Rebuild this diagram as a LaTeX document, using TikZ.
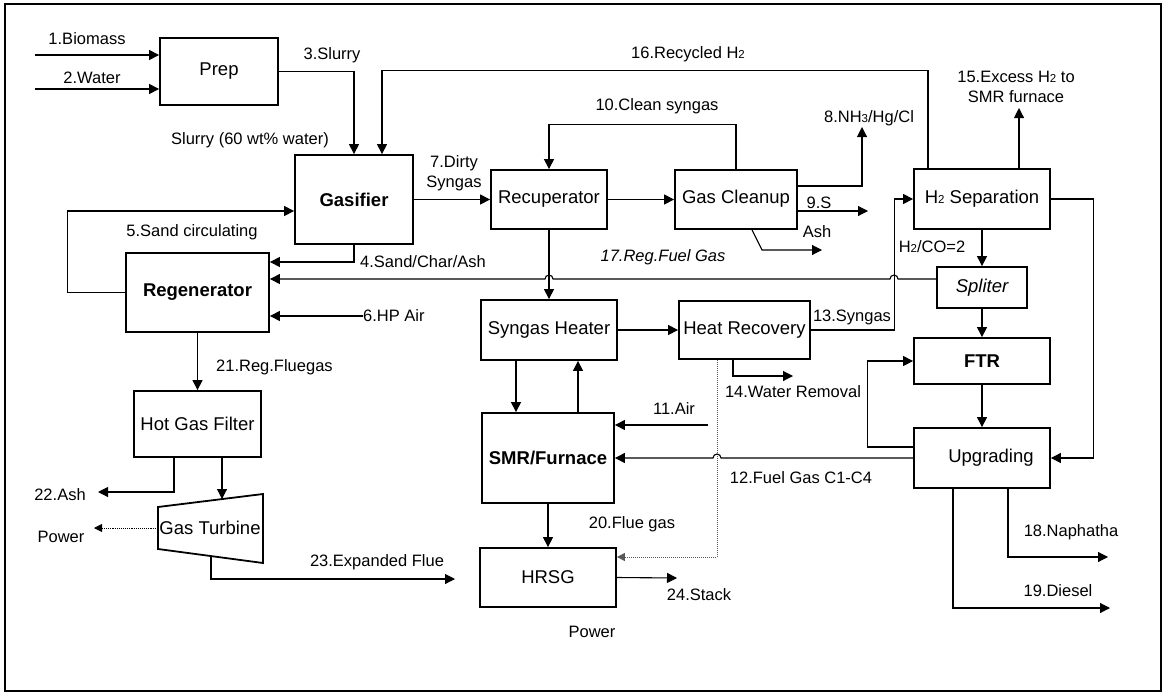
\documentclass[tikz,border=0pt]{standalone}
\usepackage{fontspec}
\setmainfont{Liberation Sans}
\usetikzlibrary{arrows.meta}
\newcommand\lblfont{\fontsize{16.5}{19}\selectfont}
\newcommand\boxfont{\fontsize{18.5}{21}\selectfont}
\newcommand\smallsub[1]{{\fontsize{11.5}{12}\selectfont #1}}
\begin{document}
\begin{tikzpicture}[x=1pt,y=-1pt,
  unit/.style={draw, line width=1.8pt, inner sep=0pt, font=\boxfont},
  arr/.style={line width=1.1pt, -{Triangle[length=10pt,width=10pt]}},
  plain/.style={line width=1.1pt},
  dotarr/.style={line width=1pt, densely dotted, gray!70!black, -{Triangle[length=8pt,width=8pt]}},
  lbl/.style={font=\lblfont, inner sep=1pt}]
\useasboundingbox (0,0) rectangle (1166,696);
\draw[line width=1.8pt] (5,4) rectangle (1161,691);

% process units
\node[unit, minimum width=118pt, minimum height=67pt] (prep) at (219,71.5) {Prep};
\node[unit, minimum width=118pt, minimum height=89pt, font=\boxfont\bfseries] (gas) at (354,199.5) {Gasifier};
\node[unit, minimum width=143pt, minimum height=79pt, font=\boxfont\bfseries] (regen) at (197.5,292.5) {Regenerator};
\node[unit, minimum width=127pt, minimum height=66pt] (hgf) at (197.5,424) {Hot Gas Filter};
\node[unit, minimum width=116pt, minimum height=59pt] (recup) at (549,199.5) {Recuperator};
\node[unit, minimum width=122pt, minimum height=59pt] (clean) at (736,199.5) {\raisebox{5pt}{Gas Cleanup}};
\node[unit, minimum width=136pt, minimum height=60pt] (h2sep) at (982,199) {H\smallsub{2} Separation};
\node[unit, minimum width=90pt, minimum height=41pt, font=\boxfont\itshape] (split) at (982,287.5) {Spliter};
\node[unit, minimum width=136pt, minimum height=46pt, font=\boxfont\bfseries] (ftr) at (982,361) {FTR};
\node[unit, minimum width=136pt, minimum height=60pt] (upg) at (982,458) {\hspace*{18pt}Upgrading};
\node[unit, minimum width=136pt, minimum height=60pt] (sh) at (549,330) {Syngas Heater};
\node[unit, minimum width=131pt, minimum height=58pt] (hr) at (744.5,330) {\raisebox{3pt}{Heat Recovery}};
\node[unit, minimum width=132pt, minimum height=90pt, font=\boxfont\bfseries] (smr) at (548,458) {SMR/Furnace};
\node[unit, minimum width=136pt, minimum height=59pt] (hrsg) at (548,577.5) {HRSG};

% gas turbine (trapezoid)
\coordinate (gt1) at (158,507);
\coordinate (gt2) at (263,494);
\coordinate (gt3) at (263,563);
\coordinate (gt4) at (158,549);
\draw[line width=1.8pt, line join=miter] (gt1) -- (gt2) -- (gt3) -- (gt4) -- cycle;
\node[font=\boxfont, inner sep=0pt] (gt) at (210,528) {Gas Turbine};
\coordinate (gtin) at (222,499);
\coordinate (gtout) at (211,556);

% free ends of streams
\coordinate (i1) at (35,55);
\coordinate (i2) at (35,89);
\coordinate (i6) at (363,316);
\coordinate (i11) at (708,425);
\coordinate (o8) at (862,127);
\coordinate (o9) at (868,211);
\coordinate (oash) at (822,250);
\coordinate (o15) at (1019,108);
\coordinate (o14) at (793,376);
\coordinate (o18) at (1108,557);
\coordinate (o19) at (1110,608);
\coordinate (o22) at (98,492);
\coordinate (opw) at (94,528);
\coordinate (o23) at (455,579);
\coordinate (o24) at (677,578);

% feed and gasification
\draw[arr] (i1) -- (i1 -| prep.west);
\draw[arr] (i2) -- (i2 -| prep.west);
\draw[arr] (prep.east) -| (gas.north);
\draw[arr] ([xshift=-54pt]h2sep.north) -- ++(0,-98) -| ([xshift=28pt]gas.north);
\draw[arr] (gas.east) -- (recup.west);
\draw[arr] (recup.east) -- (clean.west);
\draw[arr] (clean.north) -- ++(0,-45) -| (recup.north);
\draw[arr] ([yshift=13.5pt]clean.east) -| (o8);
\draw[arr] ([yshift=-11.5pt]clean.east) -- (o9);
\draw[arr] ([xshift=16pt]clean.south) -- (762,250) -- (oash);

% sand loop and regenerator
\draw[arr] (gas.south) |- ([yshift=30.5pt]regen.east);
\draw[arr] (regen.west) -- ++(-58,0) |- ([yshift=-11.5pt]gas.west);
\draw[arr] (i6) -- (i6 -| regen.east);
\draw[arr] ([yshift=8.5pt]split.west) -- (898,279)
  arc[start angle=0, end angle=180, radius=4pt] -- (553,279)
  arc[start angle=0, end angle=180, radius=4pt] -- ([yshift=13.5pt]regen.east);
\draw[arr] (regen.south) -- (hgf.north);
\draw[arr] ([xshift=-23.5pt]hgf.south) |- (o22);
\draw[arr] ([xshift=24.5pt]hgf.south) -- (gtin);
\draw[line width=0.9pt, densely dotted, -{Triangle[length=8pt,width=8pt]}] (gt1 |- gt.center) -- (opw);
\draw[arr] (gtout) |- (o23);

% syngas conditioning
\draw[arr] (recup.south) -- (sh.north);
\draw[arr] (sh.east) -- (hr.west);
\path ([xshift=-33pt]sh.south) coordinate (sh1) ([xshift=29pt]sh.south) coordinate (sh2);
\draw[arr] (sh1) -- (sh1 |- smr.north);
\draw[arr] (sh2 |- smr.north) -- (sh2);
\draw[arr] (i11) -- (i11 -| smr.east);
\draw[arr] ([xshift=-11.5pt]hr.south) |- (o14);
\draw[dotarr] ([xshift=-27.5pt]hr.south) |- ([yshift=20.5pt]hrsg.east);
\draw[arr] (hr.east) -- ++(84,0) |- (h2sep.west);
\draw[arr] (smr.south) -- (hrsg.north);
\draw[arr] (hrsg.east) -- (o24);

% synthesis and upgrading
\draw[arr] ([xshift=37pt]h2sep.north) -- (o15);
\draw[arr] (h2sep.south) -- (split.north);
\draw[arr] (split.south) -- (ftr.north);
\draw[arr] (ftr.south) -- (upg.north);
\draw[arr] (h2sep.east) -- ++(43,0) |- (upg.east);
\draw[arr] ([yshift=11pt]upg.west) -- ++(-46,0) |- (ftr.west);
\draw[arr] (upg.west) -- (721,458)
  arc[start angle=0, end angle=180, radius=4pt] -- (smr.east);
\draw[arr] ([xshift=26pt]upg.south) |- (o18);
\draw[arr] ([xshift=-29pt]upg.south) |- (o19);

% stream labels
\node[lbl] (l1) at (87,39) {1.Biomass};
\node[lbl] (l2) at (92,78) {2.Water};
\node[lbl] (l3) at (332,55) {3.Slurry};
\node[lbl] (l16) at (688,54) {16.Recycled H\smallsub{2}};
\node[lbl] (lsl) at (250,140) {Slurry (60 wt\% water)};
\node[lbl, align=center, font=\fontsize{16.5}{20}\selectfont] (l7) at (454,173) {7.Dirty\\Syngas};
\node[lbl] (l10) at (657,106) {10.Clean syngas};
\node[lbl] (l8) at (869,118) {8.NH\smallsub{3}/Hg/Cl};
\node[lbl] (l9) at (819,203) {9.S};
\node[lbl] (lash) at (817,232) {Ash};
\node[lbl, align=center, font=\fontsize{16.5}{19.5}\selectfont] (l15) at (1016,87) {15.Excess H\smallsub{2} to\\SMR furnace};
\node[lbl] (l5) at (192,232) {5.Sand circulating};
\node[lbl, anchor=west] (l4) at (359,262) {4.Sand/Char/Ash};
\node[lbl, font=\lblfont\itshape] (l17) at (663,257) {17.Reg.Fuel Gas};
\node[lbl, anchor=west] (l6) at (362,316) {6.HP Air};
\node[lbl] (lratio) at (932,247) {H\smallsub{2}/CO=2};
\node[lbl] (l13) at (852,317) {13.Syngas};
\node[lbl, anchor=west] (l21) at (215,367) {21.Reg.Fluegas};
\node[lbl] (l14) at (793,392) {14.Water Removal};
\node[lbl] (l11) at (674,409) {11.Air};
\node[lbl] (l12) at (801,478) {12.Fuel Gas C1-C4};
\node[lbl] (l22) at (60,495) {22.Ash};
\node[lbl] (lpw1) at (61,537) {Power};
\node[lbl] (l20) at (632,524) {20.Flue gas};
\node[lbl] (l23) at (377,562) {23.Expanded Flue};
\node[lbl] (l24) at (699,595) {24.Stack};
\node[lbl] (lpw2) at (592,632) {Power};
\node[lbl] (l18) at (1071,532) {18.Naphatha};
\node[lbl] (l19) at (1058,591) {19.Diesel};
\end{tikzpicture}
\end{document}
